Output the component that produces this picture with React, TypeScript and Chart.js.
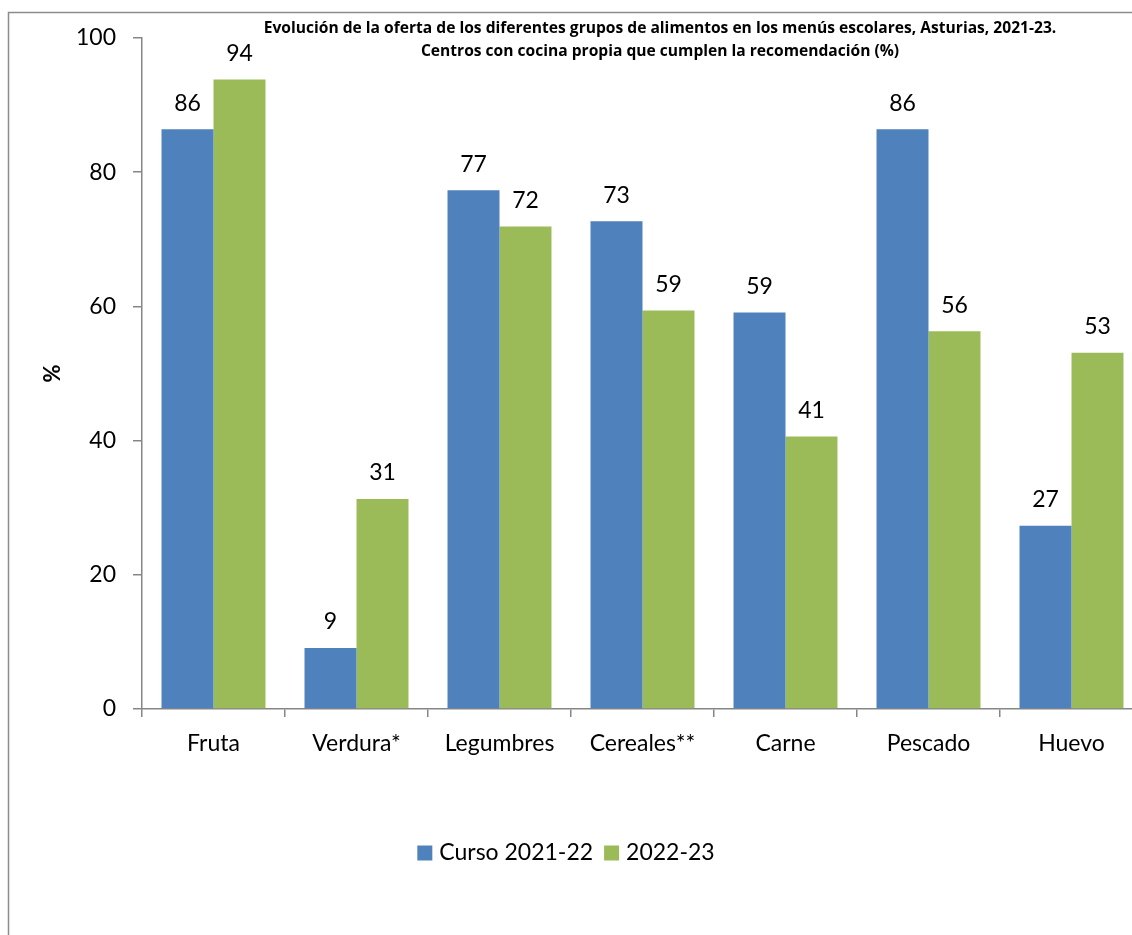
import React, { useEffect, useRef } from "react";
import { Chart, registerables } from "chart.js";

Chart.register(...registerables);

const categories = ["Fruta", "Verdura*", "Legumbres", "Cereales**", "Carne", "Pescado", "Huevo"];
const seriesNames = ["Curso 2021-22", "2022-23"];
const curso2122 = [86.4, 9.1, 77.3, 72.7, 59.1, 86.4, 27.3];
const curso2223 = [93.8, 31.3, 71.9, 59.4, 40.6, 56.3, 53.1];
const yTicks = [0, 20, 40, 60, 80, 100];
const titleLines = [
  "Evolución de la oferta de los diferentes grupos de alimentos en los menús escolares, Asturias, 2021-23.",
  "Centros con cocina propia que cumplen la recomendación (%)",
];
const yAxisTitle = "%";

const BLUE = "#4F81BD";
const GREEN = "#9BBB59";
const AXIS = "#868686";
const FONT = "Lato, 'Open Sans', sans-serif";
const TITLE_FONT = "'Open Sans', Lato, sans-serif";

const W = 1180;
const H = 935;

export default function App() {
  const ref = useRef<HTMLCanvasElement | null>(null);

  useEffect(() => {
    const canvas = ref.current;
    if (!canvas) return;

    const framePlugin = {
      id: "frame",
      beforeDraw(chart: any) {
        const ctx = chart.ctx;
        ctx.save();
        ctx.fillStyle = "#ffffff";
        ctx.fillRect(0, 0, chart.width, chart.height);
        ctx.strokeStyle = "#8c8c8c";
        ctx.lineWidth = 1.5;
        ctx.beginPath();
        ctx.moveTo(8.5, chart.height + 5);
        ctx.lineTo(8.5, 12.5);
        ctx.lineTo(chart.width + 5, 12.5);
        ctx.stroke();
        ctx.restore();
      },
    };

    const textPlugin = {
      id: "texts",
      afterDraw(chart: any) {
        const ctx = chart.ctx;
        ctx.save();
        // title
        ctx.fillStyle = "#000";
        ctx.font = `bold 15.6px ${TITLE_FONT}`;
        ctx.textAlign = "center";
        ctx.textBaseline = "middle";
        ctx.fillText(titleLines[0], 660, 29);
        ctx.fillText(titleLines[1], 660, 52);
        // data labels
        ctx.font = `23px ${FONT}`;
        chart.data.datasets.forEach((ds: any, di: number) => {
          const meta = chart.getDatasetMeta(di);
          meta.data.forEach((bar: any, i: number) => {
            const v = Math.round(ds.data[i]);
            ctx.fillText(String(v), bar.x, bar.y - 26);
          });
        });
        // legend
        const items = [
          { label: seriesNames[0], color: BLUE },
          { label: seriesNames[1], color: GREEN },
        ];
        ctx.font = `23px ${FONT}`;
        ctx.textAlign = "left";
        const box = 15;
        const gapBoxText = 7;
        const gapItems = 11;
        let total = 0;
        items.forEach((it, i) => {
          total += box + gapBoxText + ctx.measureText(it.label).width;
          if (i < items.length - 1) total += gapItems;
        });
        let x = 566 - total / 2;
        const cy = 853;
        items.forEach((it) => {
          ctx.fillStyle = it.color;
          ctx.fillRect(x, cy - box / 2, box, box);
          x += box + gapBoxText;
          ctx.fillStyle = "#000";
          ctx.fillText(it.label, x, cy);
          x += ctx.measureText(it.label).width + gapItems;
        });
        ctx.restore();
      },
    };

    const chart = new Chart(canvas, {
      type: "bar",
      data: {
        labels: categories,
        datasets: [
          {
            label: seriesNames[0],
            data: curso2122,
            backgroundColor: BLUE,
            borderWidth: 0,
            categoryPercentage: 0.727,
            barPercentage: 1.0,
          },
          {
            label: seriesNames[1],
            data: curso2223,
            backgroundColor: GREEN,
            borderWidth: 0,
            categoryPercentage: 0.727,
            barPercentage: 1.0,
          },
        ],
      },
      options: {
        responsive: false,
        animation: false,
        devicePixelRatio: 1,
        layout: { padding: { left: 0, right: W - 1143, top: 38, bottom: 0 } },
        plugins: {
          legend: { display: false },
          title: { display: false },
          tooltip: { enabled: false },
        },
        scales: {
          x: {
            grid: {
              display: true,
              drawOnChartArea: false,
              drawTicks: true,
              tickLength: 8,
              color: AXIS,
              lineWidth: 1.5,
              offset: true,
            },
            border: { display: true, color: AXIS, width: 1.5 },
            ticks: {
              color: "#000",
              font: { family: FONT, size: 23 },
              padding: 13,
              maxRotation: 0,
              autoSkip: false,
            },
            afterFit(scale: any) {
              scale.height = H - 709;
            },
          },
          y: {
            min: 0,
            max: 100,
            afterBuildTicks(scale: any) {
              scale.ticks = yTicks.map((v) => ({ value: v }));
            },
            grid: {
              display: true,
              drawOnChartArea: false,
              drawTicks: true,
              tickLength: 9,
              color: AXIS,
              lineWidth: 1.5,
            },
            border: { display: true, color: AXIS, width: 1.5 },
            ticks: {
              color: "#000",
              font: { family: FONT, size: 23 },
              padding: 17,
            },
            title: {
              display: true,
              text: yAxisTitle,
              color: "#000",
              font: { family: FONT, size: 22, weight: "bold" },
              padding: { top: 40, bottom: 0 },
            },
            afterFit(scale: any) {
              scale.width = 142;
            },
          },
        },
      },
      plugins: [framePlugin, textPlugin],
    });

    return () => chart.destroy();
  }, []);

  return (
    <div
      style={{
        position: "fixed",
        left: 0,
        top: 0,
        width: 1132,
        height: 935,
        overflow: "hidden",
        background: "#fff",
      }}
    >
      <canvas ref={ref} width={W} height={H} style={{ display: "block", width: W, height: H }} />
    </div>
  );
}
